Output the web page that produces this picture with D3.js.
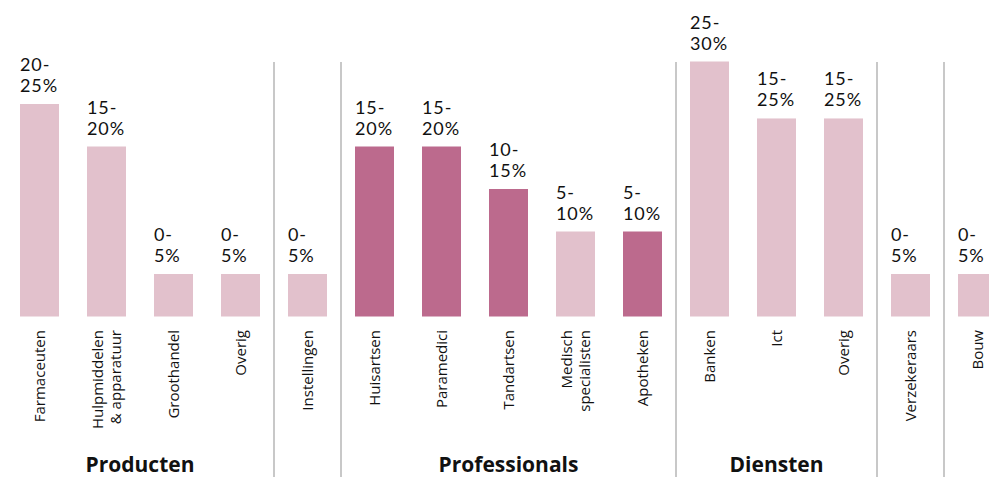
<!DOCTYPE html>
<html>
<head>
<meta charset="utf-8">
<script src="https://cdnjs.cloudflare.com/ajax/libs/d3/7.8.5/d3.min.js"></script>
<style>
  body { margin: 0; background: #fff; overflow: hidden; }
  svg { display: block; font-family: "Open Sans", sans-serif; }
</style>
</head>
<body>
<div id="chart"></div>
<script>
// categories (multi-line labels split on |)
const categories = ["Farmaceuten", "Hulpmiddelen|& apparatuur", "Groothandel", "Overig",
  "Instellingen",
  "Huisartsen", "Paramedici", "Tandartsen", "Medisch|specialisten", "Apotheken",
  "Banken", "Ict", "Overig",
  "Verzekeraars", "Bouw"];
const rangeLabels = ["20-|25%", "15-|20%", "0-|5%", "0-|5%",
  "0-|5%",
  "15-|20%", "15-|20%", "10-|15%", "5-|10%", "5-|10%",
  "25-|30%", "15-|25%", "15-|25%",
  "0-|5%", "0-|5%"];
const values = [25, 20, 5, 5, 5, 20, 20, 15, 10, 10, 30, 23.3, 23.3, 5, 5];
const highlighted = [0, 0, 0, 0, 0, 1, 1, 1, 0, 1, 0, 0, 0, 0, 0];
// groups: name and index of first/last bar
const groupNames = ["Producten", "", "Professionals", "Diensten", "", ""];
const groupStart = [0, 4, 5, 10, 13, 14];
const groupEnd = [3, 4, 9, 12, 13, 14];

const width = 989, height = 477;
const svg = d3.select("#chart").append("svg")
  .attr("width", width)
  .attr("height", height);

let x = d3.scaleBand()
  .domain(d3.range(categories.length))
  .range([6, 1011])
  .paddingInner(0.418)
  .paddingOuter(0.209);

let y = d3.scaleLinear()
  .domain([0, 30])
  .range([316.5, 61.5]);

const gap = x.step() - x.bandwidth();

// separators between groups
svg.selectAll("line.sep")
  .data(groupStart.slice(1))
  .enter()
  .append("line")
  .attr("class", "sep")
  .attr("x1", d => x(d) - gap / 2)
  .attr("x2", d => x(d) - gap / 2)
  .attr("y1", 62)
  .attr("y2", height)
  .attr("stroke", "#c8c8c8")
  .attr("stroke-width", 2);

// bars
svg.selectAll("rect.bar")
  .data(values)
  .enter()
  .append("rect")
  .attr("class", "bar")
  .attr("x", (d, i) => x(i))
  .attr("y", d => y(d))
  .attr("width", x.bandwidth())
  .attr("height", d => y(0) - y(d))
  .attr("fill", (d, i) => highlighted[i] ? "#bc6a8d" : "#e2c1cc");

// value labels above bars
let valueText = svg.selectAll("text.val")
  .data(values)
  .enter()
  .append("text")
  .attr("class", "val")
  .attr("x", (d, i) => x(i))
  .attr("y", d => y(d) - 33)
  .attr("font-family", "Lato, sans-serif")
  .attr("font-size", 18)
  .attr("letter-spacing", 0.9)
  .attr("fill", "#111");
valueText.each(function (d, i) {
  let parts = rangeLabels[i].split("|");
  d3.select(this).selectAll("tspan")
    .data(parts)
    .enter()
    .append("tspan")
    .attr("x", x(i))
    .attr("dy", (p, j) => j === 0 ? 0 : 21)
    .text(p => p);
});

// category labels (rotated)
svg.selectAll("text.cat")
  .data(categories)
  .enter()
  .append("text")
  .attr("class", "cat")
  .attr("transform", (d, i) => `translate(${x(i) + x.bandwidth() / 2},330) rotate(-90)`)
  .attr("text-anchor", "end")
  .attr("font-size", 15)
  .attr("fill", "#111")
  .each(function (d) {
    let parts = d.split("|");
    let start = 0.35 - (parts.length - 1) * 0.6;
    d3.select(this).selectAll("tspan")
      .data(parts)
      .enter()
      .append("tspan")
      .attr("x", 0)
      .attr("dy", (p, j) => j === 0 ? start + "em" : "1.2em")
      .text(p => p);
  });

// group labels
let groups = groupNames.map((name, i) => ({name: name, first: groupStart[i], last: groupEnd[i]}))
  .filter(g => g.name !== "");
svg.selectAll("text.group")
  .data(groups)
  .enter()
  .append("text")
  .attr("class", "group")
  .attr("x", g => (x(g.first) + x(g.last) + x.bandwidth()) / 2)
  .attr("y", 472)
  .attr("text-anchor", "middle")
  .attr("font-size", 21)
  .attr("font-weight", "bold")
  .attr("fill", "#111")
  .text(g => g.name);
</script>
</body>
</html>
